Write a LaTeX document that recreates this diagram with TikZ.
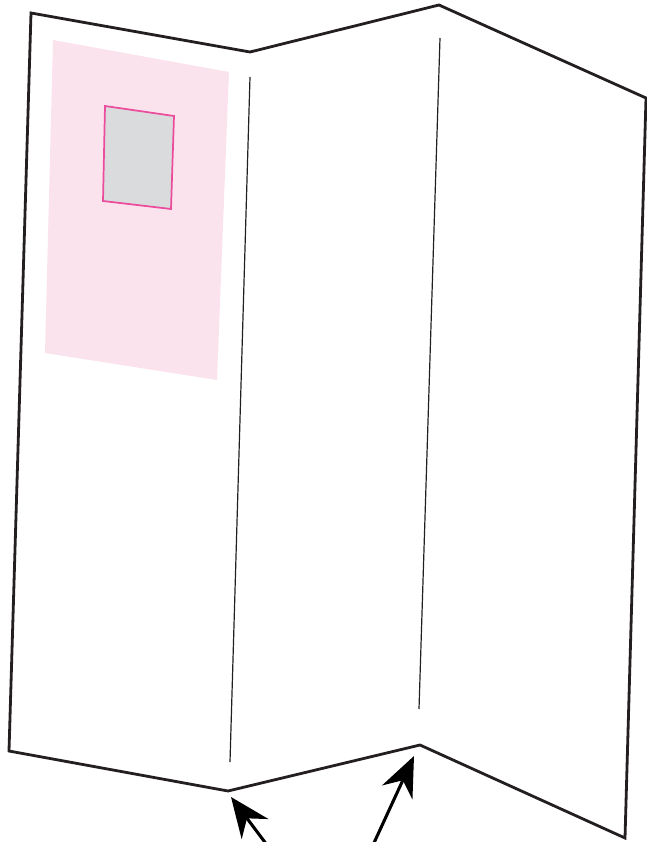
\documentclass[tikz,border=0pt]{standalone}
\usetikzlibrary{arrows.meta}
\definecolor{pinkfill}{HTML}{FBE3EE}
\definecolor{pinkline}{HTML}{EC4C9C}
\definecolor{grayfill}{HTML}{D9DBDC}
\definecolor{ink}{HTML}{231F20}
\tikzset{
  outline/.style={draw=ink, line width=2.1pt, line join=miter},
  foldline/.style={draw=ink, line width=0.9pt},
  pointer/.style={draw=black, line width=2.3pt, -{Stealth[length=30pt,width=25pt,inset=10pt]}},
}
\begin{document}
\begin{tikzpicture}[x=0.75pt,y=-0.75pt]
\useasboundingbox (0,0) rectangle (646,842);
% pink panel
\fill[pinkfill] (53,40) -- (229,72) -- (217,380) -- (45,353) -- cycle;
\filldraw[fill=grayfill, draw=pinkline, line width=1.3pt] (105,106) -- (174,116) -- (171,209) -- (103,201) -- cycle;
% outline
\draw[outline] (31,13) -- (250,52) -- (439,5) -- (646,98) -- (625,838) -- (420,745) -- (228,791) -- (9,751) -- cycle;
% fold lines
\coordinate (f1a) at (250,77); \coordinate (f1b) at (230,762);
\coordinate (f2a) at (440,38); \coordinate (f2b) at (419,709);
\draw[foldline] (f1a) -- (f1b);
\draw[foldline] (f2a) -- (f2b);
% arrows
\coordinate (a1s) at (267,845); \coordinate (a1t) at (231,797);
\coordinate (a2s) at (373,845); \coordinate (a2t) at (414,756);
\draw[pointer] (a1s) -- (a1t);
\draw[pointer] (a2s) -- (a2t);
\end{tikzpicture}
\end{document}
